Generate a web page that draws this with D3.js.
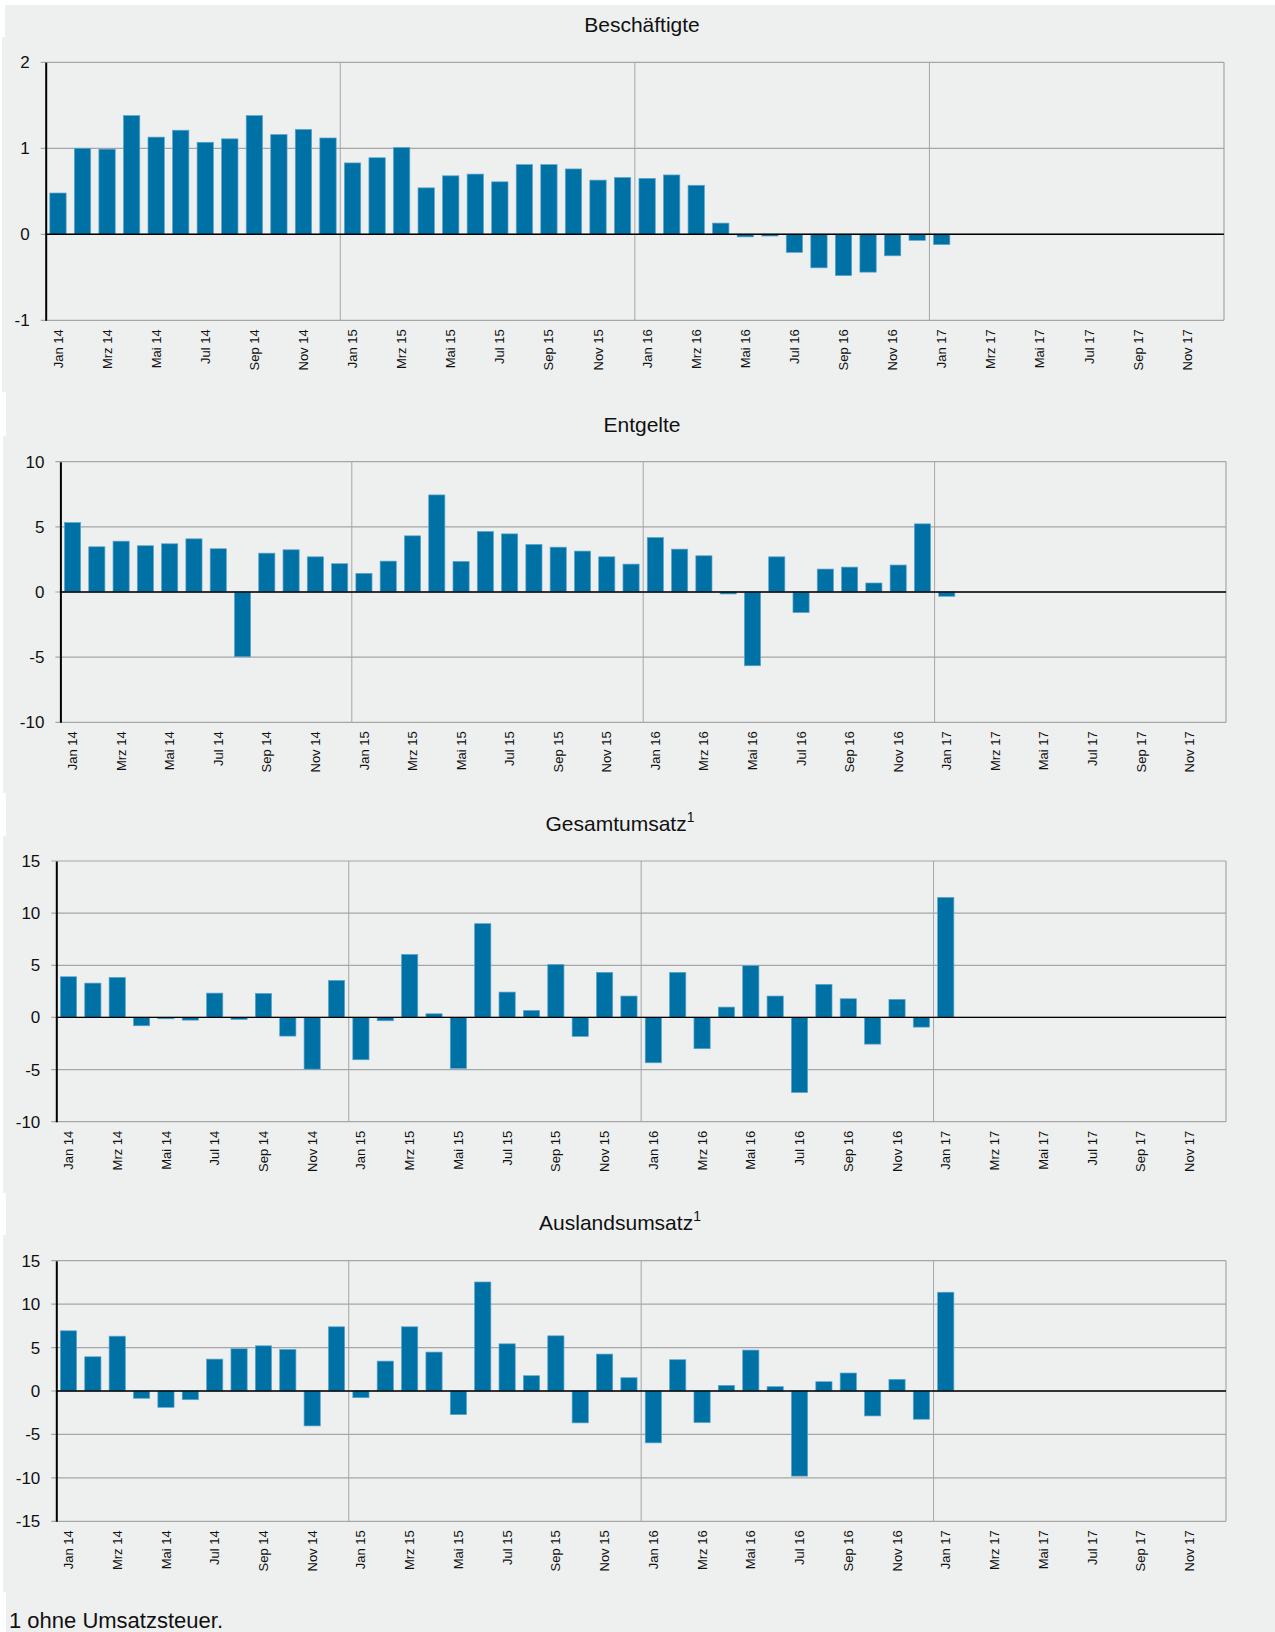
<!DOCTYPE html>
<meta charset="utf-8">
<script src="https://d3js.org/d3.v7.min.js"></script>
<style>
    html, body {
        margin: 0;
        padding: 0;
        background: white;
    }
    text {
        font-family: "Liberation Sans", Arial, sans-serif;
        fill: #111;
    }
</style>
<body></body>
<script>

    // DATA
    const months = [
        "Jan 14", "Feb 14", "Mrz 14", "Apr 14", "Mai 14", "Jun 14", "Jul 14", "Aug 14", "Sep 14", "Okt 14", "Nov 14", "Dez 14",
        "Jan 15", "Feb 15", "Mrz 15", "Apr 15", "Mai 15", "Jun 15", "Jul 15", "Aug 15", "Sep 15", "Okt 15", "Nov 15", "Dez 15",
        "Jan 16", "Feb 16", "Mrz 16", "Apr 16", "Mai 16", "Jun 16", "Jul 16", "Aug 16", "Sep 16", "Okt 16", "Nov 16", "Dez 16",
        "Jan 17", "Feb 17", "Mrz 17", "Apr 17", "Mai 17", "Jun 17", "Jul 17", "Aug 17", "Sep 17", "Okt 17", "Nov 17", "Dez 17"
    ];

    // only every second month gets a label
    const monthLabels = [
        "Jan 14", "Mrz 14", "Mai 14", "Jul 14", "Sep 14", "Nov 14",
        "Jan 15", "Mrz 15", "Mai 15", "Jul 15", "Sep 15", "Nov 15",
        "Jan 16", "Mrz 16", "Mai 16", "Jul 16", "Sep 16", "Nov 16",
        "Jan 17", "Mrz 17", "Mai 17", "Jul 17", "Sep 17", "Nov 17"
    ];

    const yearStarts = ["Jan 15", "Jan 16", "Jan 17"];

    const beschaeftigte = [
        0.48, 1.00, 0.99, 1.38, 1.13, 1.21, 1.07, 1.11, 1.38, 1.16, 1.22, 1.12,
        0.83, 0.89, 1.01, 0.54, 0.68, 0.70, 0.61, 0.81, 0.81, 0.76, 0.63, 0.66,
        0.65, 0.69, 0.57, 0.13, -0.03, -0.02, -0.21, -0.39, -0.48, -0.44, -0.25, -0.07,
        -0.12
    ];

    const entgelte = [
        5.33, 3.47, 3.90, 3.55, 3.70, 4.08, 3.32, -4.97, 2.98, 3.24, 2.70, 2.17,
        1.43, 2.37, 4.31, 7.45, 2.35, 4.64, 4.46, 3.65, 3.44, 3.14, 2.70, 2.14,
        4.18, 3.29, 2.78, -0.15, -5.66, 2.70, -1.58, 1.76, 1.91, 0.69, 2.07, 5.23,
        -0.33
    ];

    const gesamtumsatz = [
        3.90, 3.29, 3.84, -0.80, -0.13, -0.26, 2.33, -0.19, 2.30, -1.79, -4.96, 3.55,
        -4.06, -0.32, 6.04, 0.35, -4.89, 8.99, 2.43, 0.67, 5.08, -1.82, 4.32, 2.05,
        -4.35, 4.32, -3.00, 0.99, 4.96, 2.05, -7.20, 3.17, 1.79, -2.56, 1.73, -0.93,
        11.51
    ];

    const auslandsumsatz = [
        6.93, 3.94, 6.31, -0.84, -1.88, -1.00, 3.67, 4.86, 5.20, 4.78, -4.02, 7.39,
        -0.77, 3.44, 7.39, 4.48, -2.72, 12.55, 5.43, 1.76, 6.35, -3.67, 4.25, 1.53,
        -5.97, 3.60, -3.64, 0.65, 4.71, 0.50, -9.80, 1.07, 2.07, -2.87, 1.34, -3.25,
        11.37
    ];

    const ticksBeschaeftigte = [-1, 0, 1, 2];
    const ticksEntgelte = [-10, -5, 0, 5, 10];
    const ticksGesamt = [-10, -5, 0, 5, 10, 15];
    const ticksAusland = [-15, -10, -5, 0, 5, 10, 15];

    // DESIGN CONSTANTS
    const width = 1275;
    const height = 1632;
    const bgColor = "#eeefef";
    const barColor = "#0071a4";
    const barEdge = "#5aa6cf";
    const gridColor = "#a6a6a6";

    const svg = d3.select("body").append("svg")
        .attr("width", width)
        .attr("height", height);

    // grey background blocks (title strip + chart block per panel)
    const blocks = [
        [5, 5, 37], [2, 37, 392],
        [6, 392, 436], [3, 436, 793],
        [6, 793, 836], [3, 836, 1193],
        [6, 1193, 1235], [3, 1235, 1592],
        [6, 1592, 1632]
    ];
    svg.selectAll("rect.bg")
        .data(blocks)
        .enter().append("rect")
        .attr("class", "bg")
        .attr("x", d => d[0])
        .attr("y", d => d[1])
        .attr("width", d => width - d[0])
        .attr("height", d => d[2] - d[1])
        .attr("fill", bgColor);

    // one panel = one bar chart
    function drawPanel(p) {
        const g = svg.append("g");

        const x = d3.scaleBand()
            .domain(months)
            .range([p.left, p.right])
            .paddingInner(0.335)
            .paddingOuter(0.1675);

        const y = d3.scaleLinear()
            .domain(d3.extent(p.ticks))
            .range([p.bottom, p.top]);

        const halfGap = (x.step() - x.bandwidth()) / 2;

        // horizontal gridlines with small outer tick
        g.append("g")
            .selectAll("line")
            .data(p.ticks)
            .enter().append("line")
            .attr("x1", p.left - 5)
            .attr("x2", p.right)
            .attr("y1", d => y(d))
            .attr("y2", d => y(d))
            .attr("stroke", gridColor)
            .attr("stroke-width", 1.2);

        // vertical lines at the year boundaries + right border
        g.append("g")
            .selectAll("line")
            .data(yearStarts)
            .enter().append("line")
            .attr("x1", d => x(d) - halfGap)
            .attr("x2", d => x(d) - halfGap)
            .attr("y1", p.top)
            .attr("y2", p.bottom)
            .attr("stroke", gridColor)
            .attr("stroke-width", 1);

        g.append("line")
            .attr("x1", p.right).attr("x2", p.right)
            .attr("y1", p.top).attr("y2", p.bottom)
            .attr("stroke", gridColor)
            .attr("stroke-width", 1.2);

        // bars
        g.append("g")
            .selectAll("rect")
            .data(p.values)
            .enter().append("rect")
            .attr("x", (d, i) => x(months[i]))
            .attr("width", x.bandwidth())
            .attr("y", d => y(Math.max(0, d)))
            .attr("height", d => Math.abs(y(d) - y(0)))
            .attr("fill", barColor)
            .attr("stroke", barEdge)
            .attr("stroke-width", 0.7);

        // zero line
        g.append("line")
            .attr("x1", p.left).attr("x2", p.right)
            .attr("y1", y(0)).attr("y2", y(0))
            .attr("stroke", "black")
            .attr("stroke-width", 1.4);

        // y axis (plain hyphen for negatives, like the original)
        const yAxis = d3.axisLeft(y)
            .tickValues(p.ticks)
            .tickSize(0)
            .tickPadding(16)
            .tickFormat(d => String(d));

        const ya = g.append("g")
            .attr("transform", `translate(${p.left},0)`)
            .call(yAxis);
        ya.select(".domain")
            .attr("stroke", "black")
            .attr("stroke-width", 2);
        ya.selectAll("text")
            .attr("font-size", 17)
            .attr("fill", "#111")
            .style("font-family", "'Liberation Sans', Arial, sans-serif");

        // x labels, rotated
        g.append("g")
            .selectAll("text")
            .data(monthLabels)
            .enter().append("text")
            .attr("transform", d => `translate(${x(d) + x.bandwidth() / 2},${p.bottom + 9}) rotate(-90)`)
            .attr("text-anchor", "end")
            .attr("dy", "0.35em")
            .attr("font-size", 13)
            .text(d => d);

        // title
        const t = g.append("text")
            .attr("x", p.titleX)
            .attr("y", p.titleY)
            .attr("text-anchor", "middle")
            .attr("font-size", 21)
            .text(p.title);
        if (p.sup) {
            t.append("tspan")
                .attr("font-size", 14)
                .attr("dy", -9)
                .text(p.sup);
        }
    }

    drawPanel({ title: "Beschäftigte", values: beschaeftigte, ticks: ticksBeschaeftigte,
        left: 45.7, right: 1224, top: 62.3, bottom: 320.3, titleX: 642, titleY: 32 });

    drawPanel({ title: "Entgelte", values: entgelte, ticks: ticksEntgelte,
        left: 60.4, right: 1226, top: 461.7, bottom: 722.3, titleX: 642, titleY: 432 });

    drawPanel({ title: "Gesamtumsatz", sup: "1", values: gesamtumsatz, ticks: ticksGesamt,
        left: 56.3, right: 1226, top: 861, bottom: 1121.7, titleX: 620, titleY: 831 });

    drawPanel({ title: "Auslandsumsatz", sup: "1", values: auslandsumsatz, ticks: ticksAusland,
        left: 56.3, right: 1226, top: 1260.7, bottom: 1521.3, titleX: 620, titleY: 1230 });

    // footnote
    svg.append("text")
        .attr("x", 9)
        .attr("y", 1628)
        .attr("font-size", 22)
        .text("1 ohne Umsatzsteuer.");

</script>
